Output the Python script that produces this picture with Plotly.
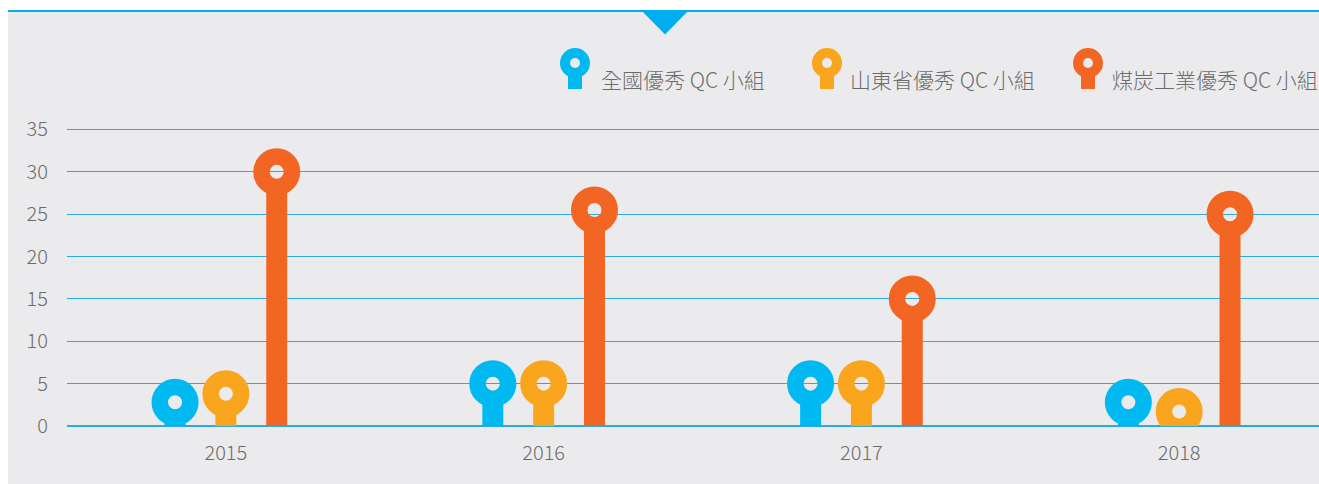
import plotly.graph_objects as go

# ---- data ----
years = ["2015", "2016", "2017", "2018"]
series_names = ["全國優秀 QC 小組", "山東省優秀 QC 小組", "煤炭工業優秀 QC 小組"]
national = [2.8, 5, 5, 2.8]
shandong = [3.8, 5, 5, 1.7]
coal = [30, 25.5, 15, 25]
y_ticks = [0, 5, 10, 15, 20, 25, 30, 35]

colors = ["#00B9F1", "#F9A61E", "#F26522"]
values = [national, shandong, coal]

# ---- geometry (the page adds an 8px body margin) ----
OFF = 8
W, H = 1311, 476
ML, MR, MT, MB = 59, 0, 113, 58
PW = W - ML - MR
PH = H - MT - MB
BG = "#EBEBED"
BLUE = "#00AEEF"
GRID = "#2AAAE1"
TXT = "#6B6B6B"
FONT = "Noto Sans CJK TC"

Y_MAX = 36
px_per_unit = PH / Y_MAX
offsets = [-0.16, 0.0, 0.16]
stem_w = 0.066
stem_gap = 8 / px_per_unit  # stem stops below ring hole


def px(xp):
    return (xp - OFF - ML) / PW


def py(yp):
    return (H - MB - (yp - OFF)) / PH


fig = go.Figure()

for name, vals, col, off in zip(series_names, values, colors, offsets):
    xs = [i + off for i in range(len(years))]
    fig.add_trace(go.Bar(
        x=xs, y=[max(v - stem_gap, 0) for v in vals], width=stem_w,
        marker=dict(color=col, line=dict(width=0)), name=name,
        showlegend=False, hoverinfo="skip"))

for name, vals, col, off in zip(series_names, values, colors, offsets):
    xs = [i + off for i in range(len(years))]
    fig.add_trace(go.Scatter(
        x=xs, y=vals, mode="markers", name=name, showlegend=False,
        marker=dict(symbol="circle-open", size=30.5, color=col,
                    line=dict(width=16.5, color=col)),
        cliponaxis=True))

shapes = []
# white strip above the top line
shapes.append(dict(type="rect", xref="paper", yref="paper", layer="below",
                   x0=px(8), x1=px(8 + W), y0=py(11), y1=py(8),
                   fillcolor="white", line=dict(width=0)))
# top blue line
shapes.append(dict(type="line", xref="paper", yref="paper",
                   x0=px(8), x1=px(8 + W), y0=py(11), y1=py(11),
                   line=dict(color=BLUE, width=2)))
# triangle
shapes.append(dict(type="path", xref="paper", yref="paper",
                   path=f"M {px(642)} {py(11)} L {px(688)} {py(11)} L {px(665)} {py(34.5)} Z",
                   fillcolor=BLUE, line=dict(width=0)))

# legend pins + labels
pin_cx = [575, 827, 1088]
label_x = [599, 848, 1110]
annotations = []
for cx, lx, col, name in zip(pin_cx, label_x, colors, series_names):
    shapes.append(dict(type="rect", xref="paper", yref="paper",
                       x0=px(cx - 7), x1=px(cx + 7), y0=py(89), y1=py(68),
                       fillcolor=col, line=dict(width=0)))
    shapes.append(dict(type="circle", xref="paper", yref="paper",
                       x0=px(cx - 15), x1=px(cx + 15), y0=py(78), y1=py(48),
                       fillcolor=col, line=dict(width=0)))
    shapes.append(dict(type="circle", xref="paper", yref="paper",
                       x0=px(cx - 5), x1=px(cx + 5), y0=py(68), y1=py(58),
                       fillcolor=BG, line=dict(width=0)))
    annotations.append(dict(xref="paper", yref="paper", x=px(lx), y=py(79),
                            xanchor="left", yanchor="middle", showarrow=False,
                            text=name, font=dict(family=FONT, size=21, color=TXT, weight=300)))

fig.update_layout(
    width=W, height=H,
    margin=dict(l=ML, r=MR, t=MT, b=MB, pad=0),
    paper_bgcolor=BG, plot_bgcolor=BG,
    barmode="overlay", showlegend=False, hovermode=False,
    shapes=shapes, annotations=annotations,
    xaxis=dict(range=[-0.5, 3.44], tickvals=list(range(len(years))), ticktext=years,
               showgrid=False, zeroline=False, showline=False, ticks="",
               ticklabelstandoff=13,
               tickfont=dict(family=FONT, size=20, color=TXT, weight=300)),
    yaxis=dict(range=[0, Y_MAX], tickvals=y_ticks, showgrid=True, gridcolor=GRID,
               gridwidth=1, zeroline=True, zerolinecolor=GRID, zerolinewidth=1.5,
               showline=False, ticks="", ticklabelstandoff=18,
               tickfont=dict(family=FONT, size=20, color=TXT, weight=300)),
)

fig.write_html("out.html",
               post_script="document.body.style.margin='8px 0 0 8px';"
                           "document.documentElement.style.overflow='hidden';")
